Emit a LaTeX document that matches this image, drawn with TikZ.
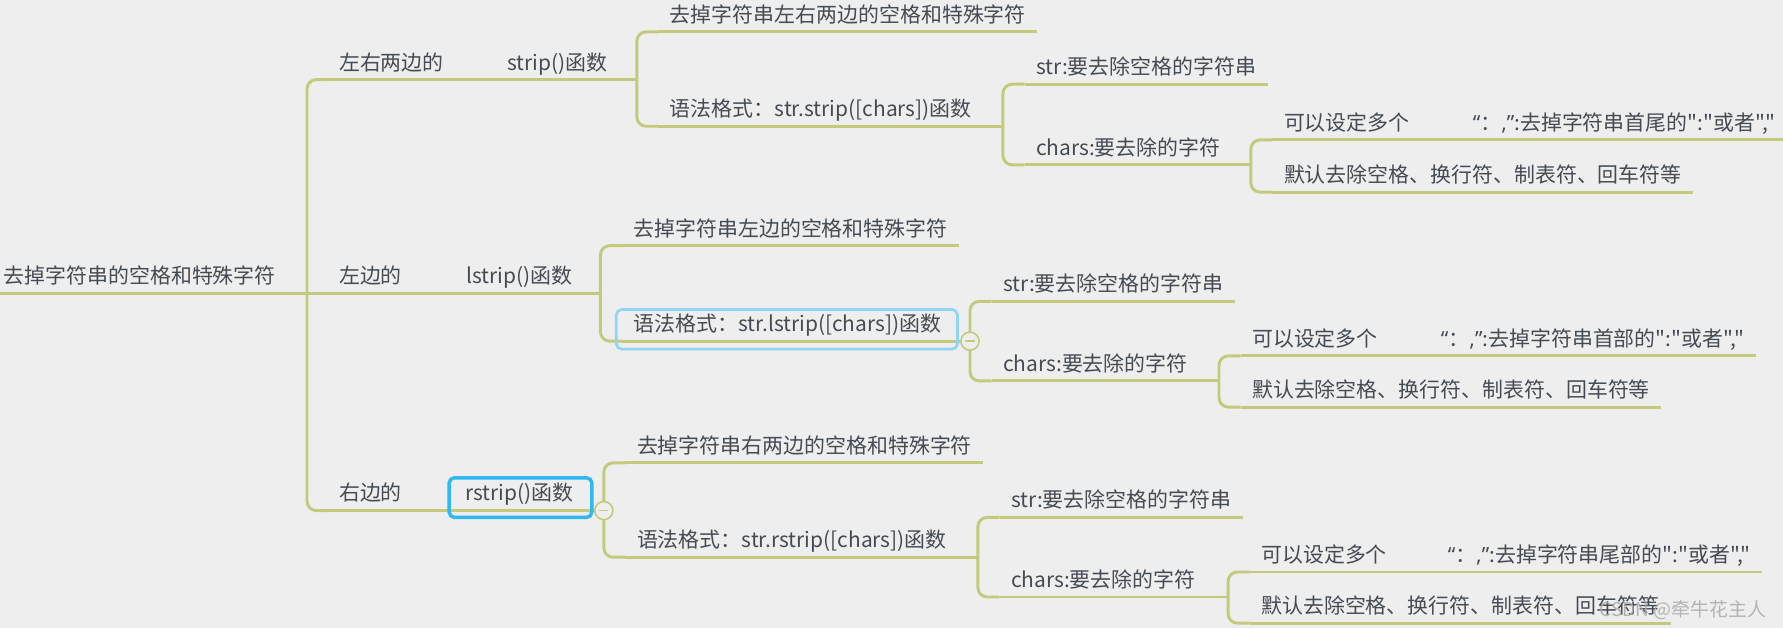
\documentclass[tikz,border=0pt]{standalone}
\usepackage{fontspec}
\setmainfont{Noto Sans CJK SC}[Ligatures=TeXOff]
\newfontfamily\qfont{Noto Sans}[Ligatures=TeXOff]
\usepackage{tikz}
\usetikzlibrary{calc}
\definecolor{paper}{HTML}{EEEEEE}
\definecolor{twig}{HTML}{C3CA7C}
\definecolor{ink}{HTML}{454B53}
\definecolor{selpale}{HTML}{8FD5F6}
\definecolor{selblue}{HTML}{2FB8F4}
\definecolor{wmark}{HTML}{A9A9A9}
\tikzset{
  topic/.style = {anchor=south west, inner xsep=8.5pt, inner ysep=5pt,
                  text height=0.88em, text depth=0.2em, text=ink,
                  font=\fontsize{15.7}{18}\selectfont},
  conn/.style  = {draw=twig, line width=2.2pt, rounded corners=7pt},
  sel/.style   = {draw=#1, line width=2pt, rounded corners=4pt},
  fold/.style  = {circle, draw=twig, line width=1.2pt, fill=paper,
                  minimum size=13.6pt, inner sep=0pt},
}

\begin{document}
\begin{tikzpicture}[x=0.853pt, y=-0.853pt]
  \fill[paper] (0,0) rectangle (1568,552);
  \useasboundingbox (0,0) rectangle (1568,552);

  % root and first level
  \node[topic] (root) at (-7,258) {去掉字符串的空格和特殊字符};
  \coordinate (j0) at (270,258);
  \node[topic] (a1) at (288,70)  {左右两边的};
  \node[topic] (a2) at (288,258) {左边的};
  \node[topic] (a3) at (288,449) {右边的};
  \node[topic] (f1) at (436,70)  {strip()函数};
  \node[topic] (f2) at (400,258) {lstrip()函数};
  \node[topic] (f3) at (399,449) {rstrip()函数};

  % strip
  \coordinate (jf1) at (560,70);
  \node[topic] (d1) at (579,28)  {去掉字符串左右两边的空格和特殊字符};
  \node[topic] (s1) at (579,111) {语法格式：str.strip([chars])函数};
  \coordinate (js1) at (882,111);
  \node[topic] (p1) at (901,74)  {str:要去除空格的字符串};
  \node[topic] (c1) at (901,145) {chars:要去除的字符};
  \coordinate (jc1) at (1100,145);
  \node[topic] (m1) at (1119,123) {可以设定多个};
  \node[topic] (q1) at (1285,123) {{\qfont “}：{\qfont ,”}:去掉字符串首尾的":"或者","};
  \node[topic] (e1) at (1119,169) {默认去除空格、换行符、制表符、回车符等};

  % lstrip
  \coordinate (jf2) at (528,258);
  \node[topic] (d2) at (547,216) {去掉字符串左边的空格和特殊字符};
  \node[topic] (s2) at (547,300) {语法格式：str.lstrip([chars])函数};
  \coordinate (js2) at (853,300);
  \node[topic] (p2) at (872,265) {str:要去除空格的字符串};
  \node[topic] (c2) at (872,335) {chars:要去除的字符};
  \coordinate (jc2) at (1072,335);
  \node[topic] (m2) at (1091,313) {可以设定多个};
  \node[topic] (q2) at (1257,313) {{\qfont “}：{\qfont ,”}:去掉字符串首部的":"或者","};
  \node[topic] (e2) at (1091,358) {默认去除空格、换行符、制表符、回车符等};

  % rstrip
  \coordinate (jf3) at (531,449);
  \node[topic] (d3) at (550,407) {去掉字符串右两边的空格和特殊字符};
  \node[topic] (s3) at (550,490) {语法格式：str.rstrip([chars])函数};
  \coordinate (js3) at (860,490);
  \node[topic] (p3) at (879,455) {str:要去除空格的字符串};
  \node[topic] (c3) at (879,525) {chars:要去除的字符};
  \coordinate (jc3) at (1080,525);
  \node[topic] (m3) at (1099,503) {可以设定多个};
  \node[topic] (q3) at (1263,503) {{\qfont “}：{\qfont ,”}:去掉字符串尾部的":"或者","};
  \node[topic] (e3) at (1099,548) {默认去除空格、换行符、制表符、回车符等};

  % underlines
  \foreach \n in {root,a1,a2,a3,f1,f2,f3,d1,d2,d3,s1,s2,s3,p1,p2,p3,c1,c2,c3,m1,m2,m3,q1,q2,q3,e1,e2,e3}
    \draw[conn] (\n.south west) -- (\n.south east);

  % connectors
  \draw[conn] (root.south east) -- (j0);
  \draw[conn] (j0) |- (a1.south west);
  \draw[conn] (j0) -- (a2.south west);
  \draw[conn] (j0) |- (a3.south west);
  \foreach \i in {1,2,3} {
    \draw[conn] (a\i.south east) -- (f\i.south west);
    \draw[conn] (f\i.south east) -- (jf\i);
    \draw[conn] (jf\i) |- (d\i.south west);
    \draw[conn] (jf\i) |- (s\i.south west);
    \draw[conn] (s\i.south east) -- (js\i);
    \draw[conn] (js\i) |- (p\i.south west);
    \draw[conn] (js\i) |- (c\i.south west);
    \draw[conn] (c\i.south east) -- (jc\i);
    \draw[conn] (jc\i) |- (m\i.south west);
    \draw[conn] (jc\i) |- (e\i.south west);
    \draw[conn] (m\i.south east) -- (q\i.south west);
  }

  % selection frames
  \draw[sel=selpale] ($(s2.south west)+(-5,7)$) rectangle ($(s2.north east)+(4,-3)$);
  \draw[sel=selblue, line width=2.6pt] ($(f3.south west)+(-4,6)$) rectangle ($(f3.north east)+(6,-4)$);

  % fold marks
  \foreach \k in {js2,jf3} {
    \node[fold] (k-\k) at (\k) {};
    \draw[twig, line width=1pt] ($(k-\k.center)+(-4,0)$) -- ($(k-\k.center)+(4,0)$);
  }

  \node[text=wmark, opacity=0.85, font=\fontsize{14.2}{16}\selectfont] (wm) at (1480,537) {CSDN @牵牛花主人};
\end{tikzpicture}
\end{document}
